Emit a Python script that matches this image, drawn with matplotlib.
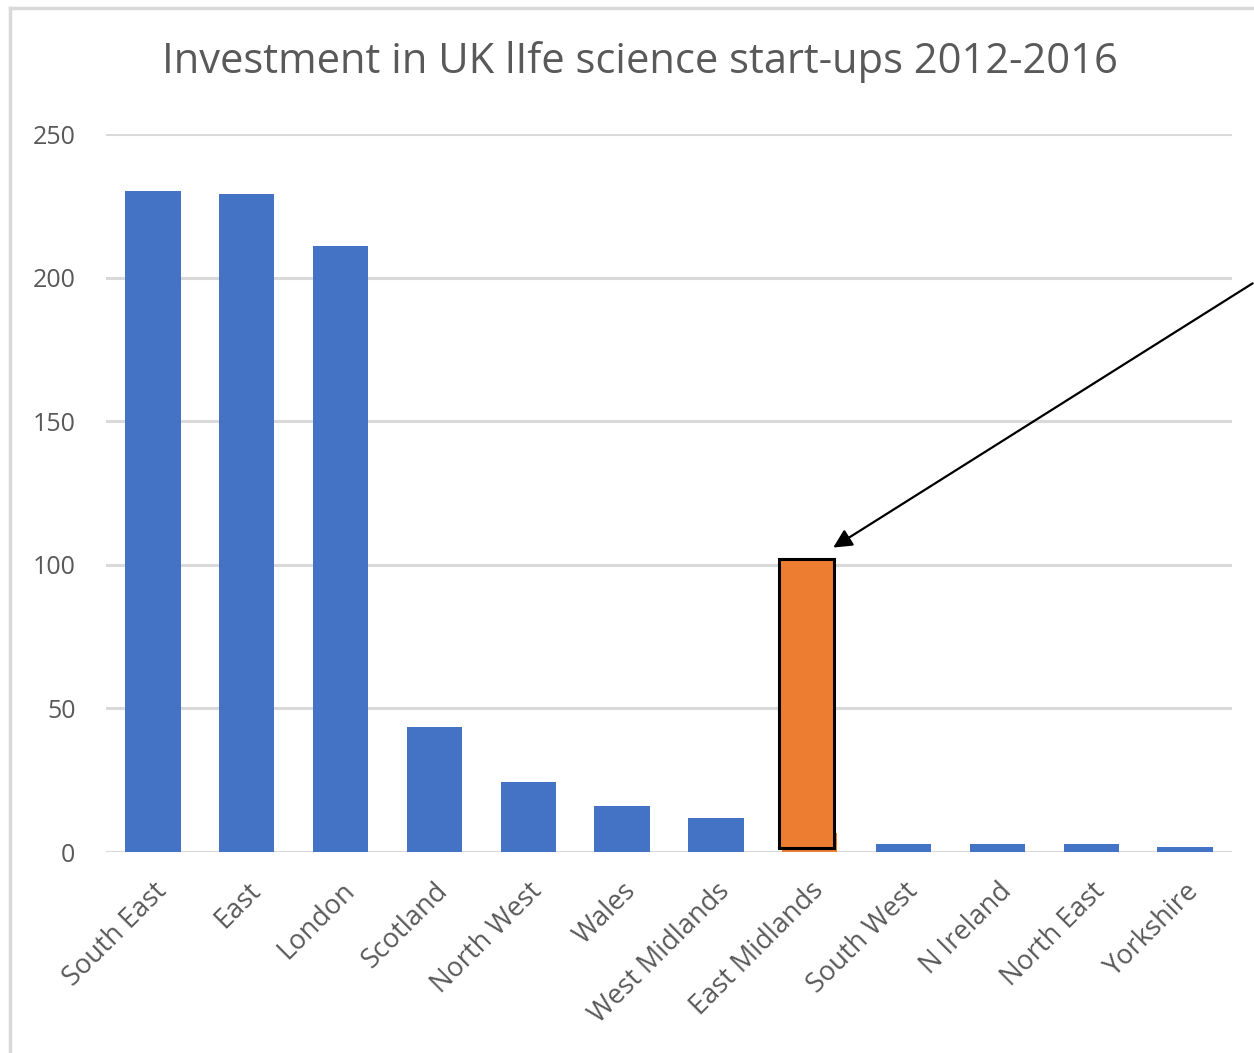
import matplotlib.pyplot as plt
from matplotlib.patches import Rectangle
from matplotlib.lines import Line2D
import numpy as np

regions = ["South East", "East", "London", "Scotland", "North West", "Wales",
           "West Midlands", "East Midlands", "South West", "N Ireland",
           "North East", "Yorkshire"]
investment = [230, 229, 211, 43.5, 24.5, 16, 12, 6.5, 2.8, 2.8, 2.8, 1.7]
highlight = "East Midlands"
highlight_box = 102   # boxed total shown over the East Midlands bar
y_ticks = [0, 50, 100, 150, 200, 250]

blue = "#4472C4"
orange = "#ED7D31"
grey_text = "#595959"
grid_grey = "#D9D9D9"

plt.rcParams['font.family'] = ['Open Sans', 'DejaVu Sans']

fig = plt.figure(figsize=(12.54, 10.53), dpi=100)
ax = fig.add_axes([106 / 1254, 201 / 1053, 1126 / 1254, 718 / 1053])

x = np.arange(len(regions))
colors = [orange if r == highlight else blue for r in regions]
ax.bar(x, investment, width=0.59, color=colors, zorder=2)

# outlined box over the highlighted region
hi = regions.index(highlight)
ax.add_patch(Rectangle((hi - 0.325, 1.4), 0.58, highlight_box - 1.4,
                       facecolor=orange, edgecolor="black", linewidth=2.2, zorder=3))

ax.set_xlim(-0.5, len(regions) - 0.5)
ax.set_ylim(0, 250)
ax.set_yticks(y_ticks)
ax.set_yticklabels([str(t) for t in y_ticks], fontsize=18, color=grey_text)
ax.tick_params(axis='y', length=0, pad=22)
ax.set_xticks(x)
ax.set_xticklabels(regions, rotation=45, ha='right', rotation_mode='anchor',
                   fontsize=19.5, color=grey_text)
ax.tick_params(axis='x', length=0, pad=18)
ax.grid(axis='y', color=grid_grey, linewidth=2.2, zorder=0)
ax.set_axisbelow(True)
for s in ax.spines.values():
    s.set_visible(False)
ax.axhline(0, color=grid_grey, linewidth=2.2, zorder=1)

fig.text(0.510, 1 - 62 / 1053, "Investment in UK lIfe science start-ups 2012-2016",
         ha='center', va='center', fontsize=30, color=grey_text)

ax.annotate("", xy=(hi + 0.25, highlight_box + 4), xytext=(11.72, 198),
            arrowprops=dict(arrowstyle='-|>', color='black', lw=1.6,
                            mutation_scale=28, shrinkA=0, shrinkB=0),
            annotation_clip=False, zorder=4)

# chart frame
fig.add_artist(Line2D([10 / 1254, 10 / 1254], [0, 1 - 8 / 1053],
                      transform=fig.transFigure, color=grid_grey, linewidth=2.5))
fig.add_artist(Line2D([10 / 1254, 1], [1 - 8 / 1053, 1 - 8 / 1053],
                      transform=fig.transFigure, color=grid_grey, linewidth=2.5))

fig.savefig("out.png", dpi=100)
